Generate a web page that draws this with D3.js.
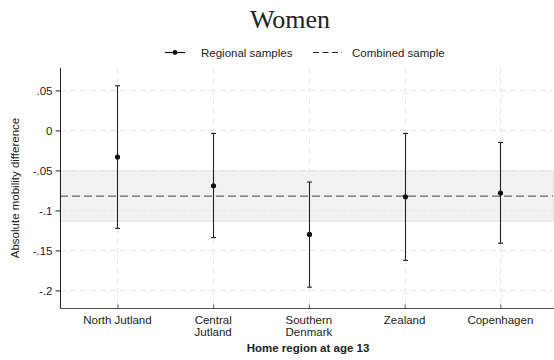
<!DOCTYPE html>
<html>
<head>
<meta charset="utf-8">
<script src="https://cdn.jsdelivr.net/npm/d3@7"></script>
<style>
  body { margin: 0; background: #fff; }
  svg { display: block; }
  text { font-family: "Liberation Sans", Arial, sans-serif; fill: #222; }
</style>
</head>
<body>
<svg id="chart" width="554" height="360"></svg>
<script>
const categories = ["North Jutland", "Central\nJutland", "Southern\nDenmark", "Zealand", "Copenhagen"];
const estimates = [-0.0334, -0.0692, -0.130, -0.083, -0.0784];
const lowerCI = [-0.1225, -0.134, -0.196, -0.1625, -0.141];
const upperCI = [0.0558, -0.0038, -0.0646, -0.0038, -0.015];
const combinedEstimate = -0.0821;
const combinedCI = [-0.1134, -0.0509];
const yTicks = [0.05, 0, -0.05, -0.1, -0.15, -0.2];
const yTickLabels = [".05", "0", "-.05", "-.1", "-.15", "-.2"];

const svg = d3.select("#chart");
const L = 60, R = 553, T = 68, B = 308;

const x = d3.scaleLinear().domain([-0.6, 4.55]).range([L, R]);
const y = d3.scaleLinear().domain([-0.222, 0.078]).range([B, T]);

// band
svg.append("rect")
  .attr("x", L).attr("width", R - L)
  .attr("y", y(combinedCI[1])).attr("height", y(combinedCI[0]) - y(combinedCI[1]))
  .attr("fill", "#f1f1f1").attr("stroke", "#e2e2e2").attr("stroke-width", 1);

// gridlines
svg.append("g").selectAll("line").data(yTicks).join("line")
  .attr("x1", L).attr("x2", R)
  .attr("y1", d => Math.round(y(d)) + 0.5).attr("y2", d => Math.round(y(d)) + 0.5)
  .attr("stroke", "#e8e8e8").attr("stroke-width", 1).attr("stroke-dasharray", "6,4");
svg.append("g").selectAll("line").data(categories).join("line")
  .attr("x1", (d, i) => Math.round(x(i)) + 0.5).attr("x2", (d, i) => Math.round(x(i)) + 0.5)
  .attr("y1", T).attr("y2", B)
  .attr("stroke", "#e8e8e8").attr("stroke-width", 1).attr("stroke-dasharray", "6,4");

// combined line
svg.append("line")
  .attr("x1", L).attr("x2", R)
  .attr("y1", y(combinedEstimate)).attr("y2", y(combinedEstimate))
  .attr("stroke", "#666").attr("stroke-width", 1.4).attr("stroke-dasharray", "8,4");

// error bars
const g = svg.append("g");
categories.forEach((c, i) => {
  const cx = Math.round(x(i)) + 0.5;
  g.append("line").attr("x1", cx).attr("x2", cx)
    .attr("y1", y(upperCI[i])).attr("y2", y(lowerCI[i]))
    .attr("stroke", "#222").attr("stroke-width", 1.1);
  [upperCI[i], lowerCI[i]].forEach(v => {
    g.append("line").attr("x1", cx - 2.5).attr("x2", cx + 2.5)
      .attr("y1", y(v)).attr("y2", y(v))
      .attr("stroke", "#222").attr("stroke-width", 1.1);
  });
  g.append("circle").attr("cx", cx).attr("cy", y(estimates[i])).attr("r", 2.6).attr("fill", "#111");
});

// y axis
const yAxis = d3.axisLeft(y).tickValues(yTicks).tickFormat((d, i) => yTickLabels[i]).tickSize(5).tickPadding(3);
const ya = svg.append("g").attr("transform", `translate(${L + 0.5},0)`).call(yAxis);
ya.select(".domain").attr("stroke", "#222").attr("d", `M0,${T}V${B}`);
ya.selectAll(".tick line").attr("stroke", "#222");
ya.selectAll(".tick text").style("font-size", "11.5px").attr("fill", "#222")
  .style("font-family", '"Liberation Sans", Arial, sans-serif');

// x axis
const xAxis = d3.axisBottom(x).tickValues(d3.range(categories.length)).tickFormat(() => "").tickSize(5);
const xa = svg.append("g").attr("transform", `translate(0,${B + 0.5})`).call(xAxis);
xa.select(".domain").attr("stroke", "#555").attr("d", `M${L},0H${R + 1}`);
xa.selectAll(".tick line").attr("stroke", "#555").attr("y1", -4).attr("y2", 0);
categories.forEach((c, i) => {
  const t = svg.append("text").attr("x", x(i)).attr("y", 324)
    .attr("text-anchor", "middle").style("font-size", "11.5px");
  c.split("\n").forEach((line, j) => {
    t.append("tspan").attr("x", x(i)).attr("dy", j === 0 ? 0 : 11.7).text(line);
  });
});

// axis titles
svg.append("text").attr("x", 308).attr("y", 352).attr("text-anchor", "middle")
  .style("font-size", "11.5px").style("font-weight", "bold").text("Home region at age 13");
svg.append("text").attr("transform", `translate(19,188) rotate(-90)`).attr("text-anchor", "middle")
  .style("font-size", "11.5px").text("Absolute mobility difference");

// title
svg.append("text").attr("x", 290).attr("y", 28).attr("text-anchor", "middle")
  .style("font-family", '"Liberation Serif", "Times New Roman", serif').style("font-size", "26px")
  .text("Women");

// legend
const lg = svg.append("g");
lg.append("line").attr("x1", 165).attr("x2", 185).attr("y1", 52.5).attr("y2", 52.5).attr("stroke", "#111").attr("stroke-width", 1.2);
lg.append("circle").attr("cx", 175).attr("cy", 52.5).attr("r", 2.4).attr("fill", "#111");
lg.append("text").attr("x", 201).attr("y", 56.5).style("font-size", "11.5px").text("Regional samples");
lg.append("line").attr("x1", 313).attr("x2", 342).attr("y1", 52.5).attr("y2", 52.5).attr("stroke", "#222").attr("stroke-width", 1.1).attr("stroke-dasharray", "6,3.5");
lg.append("text").attr("x", 352).attr("y", 56.5).style("font-size", "11.5px").text("Combined sample");
</script>
</body>
</html>
